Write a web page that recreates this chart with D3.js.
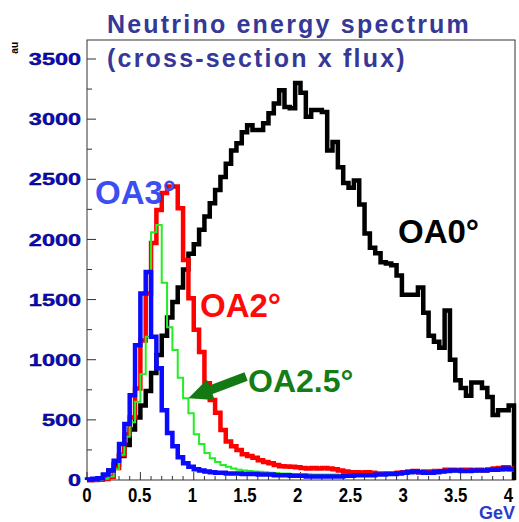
<!DOCTYPE html>
<html><head><meta charset="utf-8">
<script src="https://cdn.jsdelivr.net/npm/d3@7"></script>
<style>html,body{margin:0;padding:0;background:#fff;} svg{display:block;}</style>
</head><body>
<svg id="c" width="519" height="522"></svg>
<script>
// ---- data: 80 bins of 0.05 GeV from 0 to 4 GeV ----
const binLow = 0, binHigh = 4, nBins = 80;
const oa0 = [0,5,15,40,80,130,200,290,420,520,620,740,890,1040,1200,1350,1480,1600,1750,1880,
  1960,2080,2190,2300,2410,2520,2630,2740,2800,2890,2950,2910,2910,2965,3050,3130,3240,3100,3090,3300,
  3220,3020,3075,3075,3060,2740,2810,2600,2470,2430,2490,2290,2050,1930,1885,1810,1800,1785,1700,1540,
  1540,1540,1600,1390,1200,1150,1100,1410,1000,830,765,700,810,810,765,690,540,580,580,620];
const oa2 = [0,0,3,8,25,100,210,380,520,760,1160,1550,1970,2245,2385,2440,2440,2260,1830,1510,
  1250,1065,805,665,560,415,320,280,250,215,200,185,165,150,140,125,115,112,110,105,
  100,95,100,95,100,95,90,80,70,65,65,60,65,60,55,55,55,55,60,65,
  70,75,65,70,70,75,75,85,85,80,85,85,80,85,80,85,95,100,105,95];
const oa25 = [0,0,2,10,30,90,210,360,480,650,880,1190,2060,2120,1640,1270,1080,850,680,555,
  380,300,225,180,150,125,110,95,85,80,75,70,68,65,60,58,55,55,50,50,
  48,48,46,46,45,45,45,44,44,45,45,46,46,47,48,48,50,50,52,55,
  58,60,60,62,62,65,65,66,68,68,70,70,70,72,72,74,75,76,78,78];
const oa3 = [5,10,15,45,80,160,300,465,705,1120,1550,1730,1190,930,580,390,280,190,140,110,
  90,80,70,65,60,60,55,55,55,50,50,50,45,45,45,40,40,40,35,35,
  35,30,30,30,30,30,30,30,35,35,40,40,40,40,45,45,50,50,55,60,
  65,70,65,60,60,65,70,75,80,80,75,75,80,80,80,85,85,90,95,90];

const yTicks = [0,500,1000,1500,2000,2500,3000,3500];
const yTickLabels = ["0","500","1000","1500","2000","2500","3000","3500"];
const xTicks = [0,0.5,1,1.5,2,2.5,3,3.5,4];
const xTickLabels = ["0","0.5","1","1.5","2","2.5","3","3.5","4"];
const titleLines = ["Neutrino energy spectrum","(cross-section x flux)"];
const seriesLabels = ["OA0°","OA2°","OA2.5°","OA3°"];
const arrowTip = [0.95, 680], arrowTail = [1.49, 860];

// ---- drawing ----
const svg = d3.select("#c");
const FONT = "'Liberation Sans', Arial, Helvetica, sans-serif";
const x = d3.scaleLinear().domain([0,4]).range([87,514]);
const y = d3.scaleLinear().domain([0,3500]).range([480,59]);
const frameTop = 40;

// frame
svg.append("rect").attr("x",x(0)).attr("y",frameTop).attr("width",x(4)-x(0)+1).attr("height",y(0)-frameTop)
  .attr("fill","none").attr("stroke","#333").attr("stroke-width",1);

// y ticks
const yMinor = d3.range(250, 3600, 500);
svg.append("g").selectAll("line").data(yTicks).join("line")
  .attr("x1",x(0)).attr("x2",x(0)+9).attr("y1",d=>y(d)).attr("y2",d=>y(d)).attr("stroke","#333");
svg.append("g").selectAll("line").data(yMinor).join("line")
  .attr("x1",x(0)).attr("x2",x(0)+5).attr("y1",d=>y(d)).attr("y2",d=>y(d)).attr("stroke","#333");
// x ticks
const xMinor = d3.range(0, 4.001, 0.1).filter(v=>Math.abs(v*2-Math.round(v*2))>1e-6);
svg.append("g").selectAll("line").data(xTicks).join("line")
  .attr("x1",d=>x(d)).attr("x2",d=>x(d)).attr("y1",y(0)).attr("y2",y(0)-8).attr("stroke","#333");
svg.append("g").selectAll("line").data(xMinor).join("line")
  .attr("x1",d=>x(d)).attr("x2",d=>x(d)).attr("y1",y(0)).attr("y2",y(0)-4).attr("stroke","#333");

// y tick labels
svg.append("g").selectAll("g").data(yTicks).join("g")
  .attr("transform",d=>`translate(81,${y(d)})`)
  .append("text").attr("transform","scale(1.38,1)")
  .attr("text-anchor","end").attr("dy","0.36em")
  .attr("font-family",FONT).attr("font-weight","bold").attr("font-size",17)
  .attr("fill","#0a0ac0").attr("stroke","#000050").attr("stroke-width",0.4)
  .text((d,i)=>yTickLabels[i]);

// x tick labels (ROOT-like: slightly shifted left towards the right end)
svg.append("g").selectAll("g").data(xTicks).join("g")
  .attr("transform",d=>`translate(${x(d) - d*1.4},502)`)
  .append("text").attr("transform","scale(0.8,1)")
  .attr("text-anchor","middle")
  .attr("font-family",FONT).attr("font-weight","bold").attr("font-size",21)
  .attr("fill","#000")
  .text((d,i)=>xTickLabels[i]);

// axis titles
svg.append("text").attr("x",515).attr("y",519).attr("text-anchor","end")
  .attr("font-family",FONT).attr("font-weight","bold").attr("font-size",18)
  .attr("fill","#2a3ccc").text("GeV");
svg.append("text").attr("transform","translate(18,42) rotate(-90)").attr("text-anchor","end")
  .attr("font-family",FONT).attr("font-weight","bold").attr("font-size",10)
  .attr("fill","#000").text("au");

// histograms
const binW = (binHigh-binLow)/nBins;
function stepPoints(vals, dropEnd){
  const pts = [[binLow, 0]];
  vals.forEach((v,i)=>{ pts.push([binLow+i*binW, v]); pts.push([binLow+(i+1)*binW, v]); });
  if (dropEnd) pts.push([binHigh, 0]);
  return pts;
}
const line = d3.line().x(d=>x(d[0])).y(d=>y(d[1]));
const series = [
  {vals: oa0, color:"#000000", w:4.5, drop:true},
  {vals: oa2, color:"#ff0000", w:4.5, drop:false},
  {vals: oa25, color:"#22ee22", w:2, drop:false},
  {vals: oa3, color:"#0a0aff", w:4.5, drop:false}
];
series.forEach(s=>{
  svg.append("path").attr("d", line(stepPoints(s.vals, s.drop)))
    .attr("fill","none").attr("stroke",s.color).attr("stroke-width",s.w)
    .attr("stroke-linejoin","miter").attr("stroke-linecap","butt");
});

// title
titleLines.forEach((t,i)=>{
  svg.append("text").attr("x",107).attr("y",[33,67][i])
    .attr("font-family",FONT).attr("font-weight","bold").attr("font-size",25)
    .attr("letter-spacing","2.2px").attr("fill","#353897").text(t);
});

// series labels
const labelPos = [[398,243,"#000000",33],[200,317,"#ff0a0a",33],[248,392,"#157d15",32],[95,204,"#3b4ef2",33]];
seriesLabels.forEach((t,i)=>{
  const p = labelPos[i];
  svg.append("text").attr("x",p[0]).attr("y",p[1]).attr("fill",p[2])
    .attr("font-family",FONT).attr("font-weight","bold").attr("font-size",p[3]).text(t);
});

// arrow
const tip = [x(arrowTip[0]), y(arrowTip[1])], tail = [x(arrowTail[0]), y(arrowTail[1])];
const dx = tip[0]-tail[0], dy = tip[1]-tail[1], L = Math.hypot(dx,dy);
const ux = dx/L, uy = dy/L, nx = -uy, ny = ux;
const headLen = 24, headHalf = 11;
const base = [tip[0]-headLen*ux, tip[1]-headLen*uy];
svg.append("line").attr("x1",tail[0]).attr("y1",tail[1]).attr("x2",base[0]+2*ux).attr("y2",base[1]+2*uy)
  .attr("stroke","#137a13").attr("stroke-width",9);
svg.append("polygon").attr("points",[tip,[base[0]+headHalf*nx,base[1]+headHalf*ny],[base[0]-headHalf*nx,base[1]-headHalf*ny]].map(p=>p.join(",")).join(" "))
  .attr("fill","#137a13");
</script>
</body></html>
